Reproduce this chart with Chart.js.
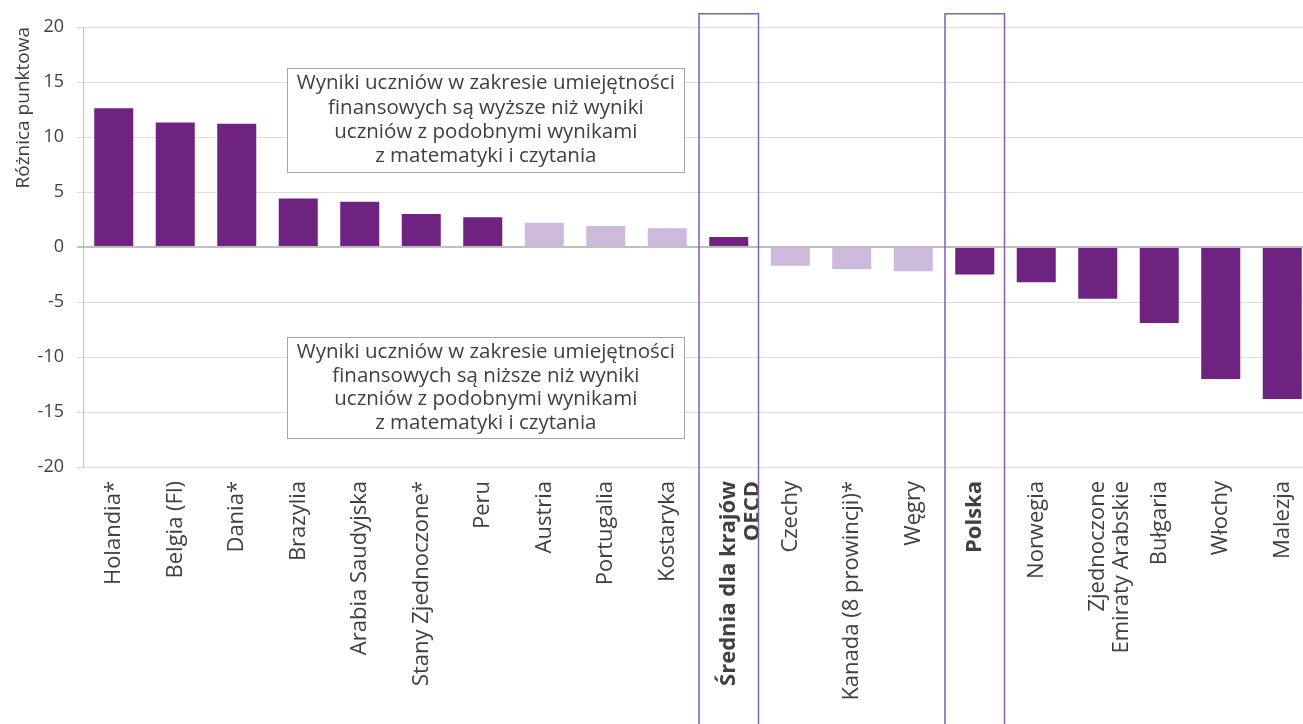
<!DOCTYPE html>
<html lang="pl">
<head>
<meta charset="utf-8">
<script src="https://cdn.jsdelivr.net/npm/chart.js@4/dist/chart.umd.min.js"></script>
<style>
  html, body { margin: 0; padding: 0; background: #fff; overflow: hidden; }
  #wrap { width: 1313px; height: 724px; position: relative; }
</style>
</head>
<body>
<div id="wrap"><canvas id="chart"></canvas></div>
<script>
const countries = [
  "Holandia*", "Belgia (Fl)", "Dania*", "Brazylia", "Arabia Saudyjska",
  "Stany Zjednoczone*", "Peru", "Austria", "Portugalia", "Kostaryka",
  ["Średnia dla krajów", "OECD"], "Czechy", "Kanada (8 prowincji)*", "Węgry",
  "Polska", "Norwegia", ["Zjednoczone", "Emiraty Arabskie"], "Bułgaria",
  "Włochy", "Malezja"
];
const diffs = [12.7, 11.4, 11.3, 4.5, 4.2, 3.1, 2.8, 2.3, 2.0, 1.8,
  1.0, -1.8, -2.1, -2.3, -2.6, -3.3, -4.8, -7.0, -12.1, -13.9];
// czy różnica jest istotna statystycznie
const significant = [true, true, true, true, true, true, true, false, false, false,
  true, false, false, false, true, true, true, true, true, true];
const highlighted = [10, 14];
const yTicks = [-20, -15, -10, -5, 0, 5, 10, 15, 20];

const noteAbove = ["Wyniki uczniów w zakresie umiejętności",
  "finansowych są wyższe niż wyniki",
  "uczniów z podobnymi wynikami",
  "z matematyki i czytania"];
const noteBelow = ["Wyniki uczniów w zakresie umiejętności",
  "finansowych są niższe niż wyniki",
  "uczniów z podobnymi wynikami",
  "z matematyki i czytania"];

const DARK = "#6E2380";
const LIGHT = "#CDB9DB";
const FONT = "'Open Sans', 'Noto Sans', sans-serif";

const highlightBoxes = {
  id: "highlightBoxes",
  afterDatasetsDraw(chart) {
    const ctx = chart.ctx;
    const x = chart.scales.x, y = chart.scales.y;
    ctx.save();
    ctx.strokeStyle = "#8460B2";
    ctx.lineWidth = 1.5;
    highlighted.forEach(function (i) {
      const l = x.getPixelForValue(i - 0.5) + 1;
      const r = x.getPixelForValue(i + 0.5) - 1;
      const t = y.getPixelForValue(21.2);
      ctx.beginPath();
      ctx.moveTo(l, chart.height + 2);
      ctx.lineTo(l, t);
      ctx.lineTo(r, t);
      ctx.lineTo(r, chart.height + 2);
      ctx.stroke();
    });
    ctx.restore();
  }
};

function drawNote(chart, lines, x0, x1, yTop, yBottom, lh) {
  const ctx = chart.ctx;
  const x = chart.scales.x, y = chart.scales.y;
  const l = x.getPixelForValue(x0), r = x.getPixelForValue(x1);
  const t = y.getPixelForValue(yTop), b = y.getPixelForValue(yBottom);
  ctx.save();
  ctx.fillStyle = "#fff";
  ctx.fillRect(l, t, r - l, b - t);
  ctx.strokeStyle = "#A6A6A6";
  ctx.lineWidth = 1;
  ctx.strokeRect(Math.round(l) + 0.5, Math.round(t) + 0.5, Math.round(r - l), Math.round(b - t));
  ctx.fillStyle = "#404040";
  ctx.font = "20.5px " + FONT;
  ctx.textAlign = "center";
  ctx.textBaseline = "middle";
  const cy = (t + b) / 2 - lh * (lines.length - 1) / 2;
  lines.forEach(function (s, k) {
    ctx.fillText(s, (l + r) / 2, cy + k * lh);
  });
  ctx.restore();
}

const notes = {
  id: "notes",
  afterDatasetsDraw(chart) {
    drawNote(chart, noteAbove, 2.82, 9.28, 16.3, 6.8, 24.3);
    drawNote(chart, noteBelow, 2.82, 9.28, -8.2, -17.4, 23.6);
  }
};

new Chart(document.getElementById("chart").getContext("2d"), {
  type: "bar",
  data: {
    labels: countries,
    datasets: [{
      data: diffs,
      backgroundColor: significant.map(s => s ? DARK : LIGHT),
      borderColor: "rgba(255,255,255,0.35)",
      borderWidth: 1,
      barPercentage: 0.667,
      categoryPercentage: 1.0
    }]
  },
  options: {
    responsive: true,
    maintainAspectRatio: false,
    animation: false,
    layout: { padding: { top: 27, right: 0, left: 0, bottom: 0 } },
    plugins: { legend: { display: false }, tooltip: { enabled: false } },
    scales: {
      x: {
        grid: { display: false },
        border: { display: false },
        ticks: {
          autoSkip: false,
          maxRotation: 90,
          minRotation: 90,
          padding: 6,
          color: "#404040",
          font: function (c) {
            return {
              family: FONT,
              size: 22,
              lineHeight: 1.1,
              weight: highlighted.includes(c.index) ? "bold" : "normal"
            };
          }
        },
        afterFit(scale) { scale.height = 257; }
      },
      y: {
        min: -20,
        max: 20,
        afterBuildTicks(scale) { scale.ticks = yTicks.map(v => ({ value: v })); },
        grid: {
          color: c => c.tick && c.tick.value === 0 ? "#BFBFBF" : "#DDDDDD",
          lineWidth: c => c.tick && c.tick.value === 0 ? 2 : 1,
          tickLength: 6
        },
        border: { color: "#BFBFBF", width: 1 },
        ticks: {
          color: "#404040",
          padding: 13,
          font: { family: FONT, size: 18 }
        },
        title: {
          display: true,
          text: "Różnica punktowa",
          align: "end",
          color: "#404040",
          font: { family: FONT, size: 19 },
          padding: { top: 12, bottom: 0 }
        },
        afterFit(scale) { scale.width = 83; }
      }
    }
  },
  plugins: [highlightBoxes, notes]
});
</script>
</body>
</html>
